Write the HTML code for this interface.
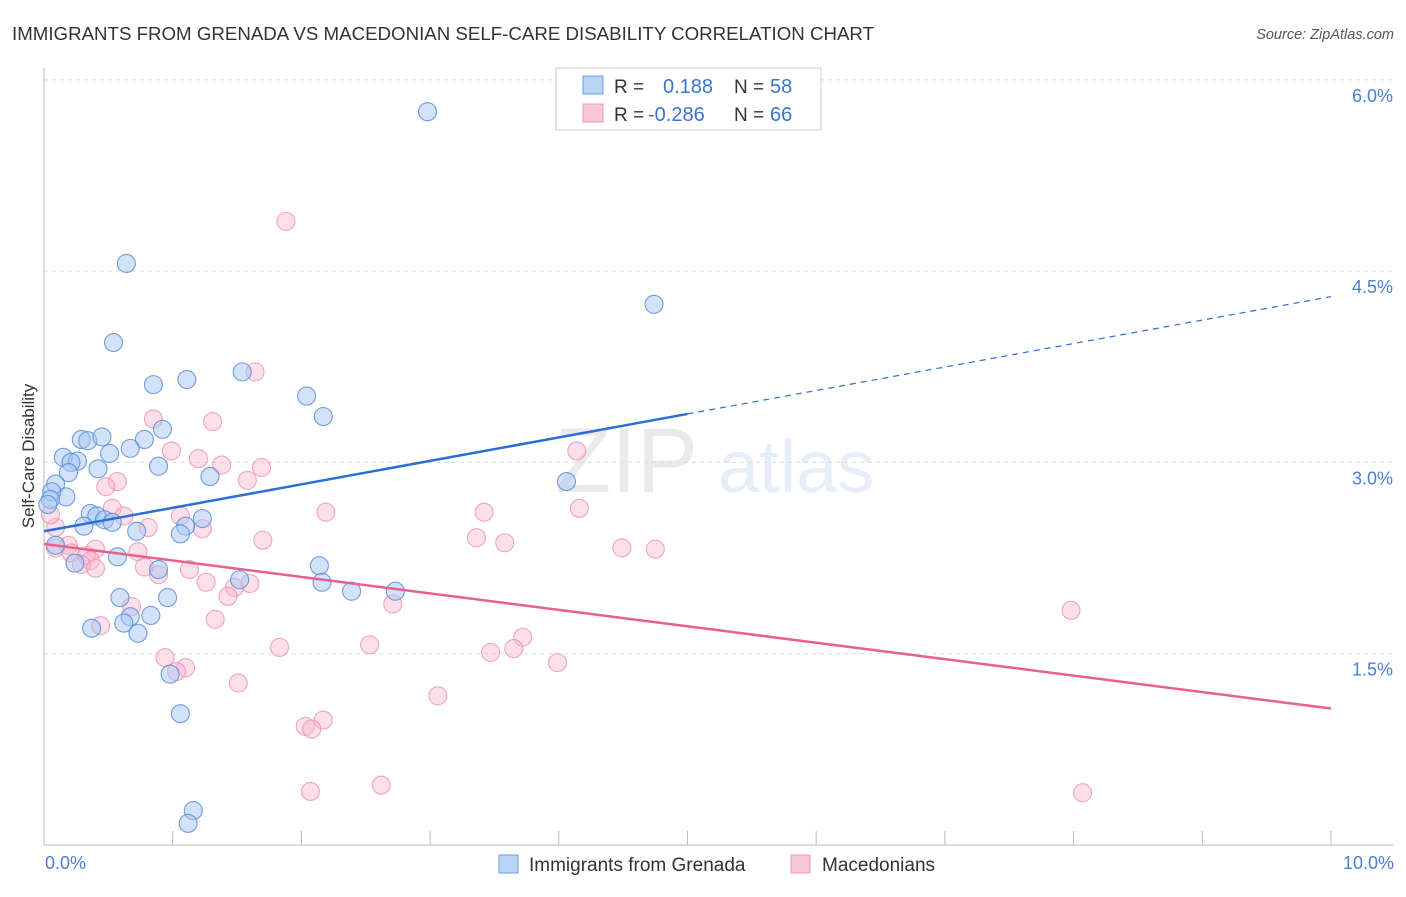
<!DOCTYPE html>
<html><head><meta charset="utf-8"><style>
body{margin:0;background:#fff;font-family:"Liberation Sans",sans-serif}
svg text{font-family:"Liberation Sans",sans-serif}
</style></head><body>
<svg id="chart" width="1406" height="892" xmlns="http://www.w3.org/2000/svg">
<text x="12" y="40" font-size="18" fill="#333" textLength="862" lengthAdjust="spacingAndGlyphs">IMMIGRANTS FROM GRENADA VS MACEDONIAN SELF-CARE DISABILITY CORRELATION CHART</text>
<text x="1394" y="39" font-size="14.5" fill="#555" text-anchor="end" font-style="italic">Source: ZipAtlas.com</text>
<g opacity="0.13">
<text x="555" y="492" font-size="92" fill="#666" font-family="Liberation Serif,serif">ZIP</text>
<text x="718" y="492" font-size="74" fill="#4a7fd4">atlas</text></g>
<g id="grid"></g>
<g id="axes"></g>
<g id="pts"></g>
<g id="trends"></g>
<text transform="translate(34,456) rotate(-90)" font-size="17" fill="#333" text-anchor="middle">Self-Care Disability</text>
<text x="45" y="869" font-size="18" fill="#4a7fd4">0.0%</text>
<text x="1394" y="869" font-size="18" fill="#4a7fd4" text-anchor="end">10.0%</text>
<g>
<rect x="556" y="68" width="265" height="62" fill="#fff" stroke="#ccc"/>
<rect x="583" y="76" width="20" height="18" fill="#b9d3f4" stroke="#6f9de0"/>
<rect x="583" y="104" width="20" height="18" fill="#f9c8d7" stroke="#e99ab5"/>
<text x="614" y="93" font-size="19" fill="#333">R = </text><text x="663" y="93" font-size="20" fill="#3a74d0">0.188</text>
<text x="734" y="93" font-size="19" fill="#333">N = </text><text x="770" y="93" font-size="20" fill="#3a74d0">58</text>
<text x="614" y="121" font-size="19" fill="#333">R = </text><text x="648" y="121" font-size="20" fill="#3a74d0">-0.286</text>
<text x="734" y="121" font-size="19" fill="#333">N = </text><text x="770" y="121" font-size="20" fill="#3a74d0">66</text>
</g>
<g>
<rect x="499" y="855" width="19" height="18" fill="#b9d3f4" stroke="#6f9de0"/>
<text x="529" y="871" font-size="19" fill="#333">Immigrants from Grenada</text>
<rect x="791" y="855" width="19" height="18" fill="#f9c8d7" stroke="#e99ab5"/>
<text x="822" y="871" font-size="19" fill="#333">Macedonians</text>
</g>
</svg>
<script>
const yTicks=[1.5,3.0,4.5,6.0];
const yTickLabels=["1.5%","3.0%","4.5%","6.0%"];
const xTicks=[1,2,3,4,5,6,7,8,9,10];
const blueX=[2.98,0.64,4.74,0.54,1.54,1.11,0.85,2.04,2.17,0.92,0.29,0.34,0.45,0.78,0.67,0.51,0.15,0.26,0.21,0.89,0.42,0.19,1.29,4.06,0.09,0.17,0.06,0.05,0.03,0.36,0.41,1.23,0.47,0.53,0.31,1.10,0.72,1.06,0.09,0.57,0.24,0.89,2.14,1.52,2.16,2.39,2.73,0.96,0.59,0.83,0.67,0.62,0.37,0.73,0.98,1.06,1.16,1.12];
const blueY=[5.75,4.56,4.24,3.94,3.71,3.65,3.61,3.52,3.36,3.26,3.18,3.17,3.20,3.18,3.11,3.07,3.04,3.01,3.00,2.97,2.95,2.92,2.89,2.85,2.83,2.73,2.77,2.71,2.67,2.60,2.58,2.56,2.55,2.53,2.50,2.50,2.46,2.44,2.35,2.26,2.21,2.16,2.19,2.08,2.06,1.99,1.99,1.94,1.94,1.80,1.79,1.74,1.70,1.66,1.34,1.03,0.27,0.17];
const pinkX=[1.88,1.64,0.85,1.31,0.99,1.20,1.38,1.69,4.14,0.57,0.48,1.58,2.19,3.42,4.16,0.53,1.06,0.62,1.23,0.81,0.09,0.05,1.70,3.36,3.58,4.49,4.75,0.19,0.40,0.73,0.09,0.21,0.33,0.36,0.29,0.40,0.78,0.89,1.13,1.26,1.60,1.48,1.43,2.71,0.68,7.98,1.33,0.44,3.72,2.53,3.65,1.83,3.47,0.94,3.99,1.10,1.03,1.51,3.06,2.17,2.03,2.08,2.07,2.62,8.07];
const pinkY=[4.89,3.71,3.34,3.32,3.09,3.03,2.98,2.96,3.09,2.85,2.81,2.86,2.61,2.61,2.64,2.64,2.58,2.58,2.48,2.49,2.49,2.59,2.39,2.41,2.37,2.33,2.32,2.35,2.32,2.30,2.33,2.29,2.27,2.23,2.20,2.17,2.18,2.12,2.16,2.06,2.05,2.02,1.95,1.89,1.87,1.84,1.77,1.72,1.63,1.57,1.54,1.55,1.51,1.47,1.43,1.39,1.36,1.27,1.17,0.98,0.93,0.91,0.42,0.47,0.41];
const blueTrend=[2.46,4.30];
const pinkTrend=[2.36,1.07];
const NS="http://www.w3.org/2000/svg";
const sx=v=>44+v*128.7, sy=v=>845-v*127.53;
function mk(t,a,p){const e=document.createElementNS(NS,t);for(const k in a)e.setAttribute(k,a[k]);p.appendChild(e);return e;}
const grid=document.getElementById('grid'),axes=document.getElementById('axes');
yTicks.forEach((t,i)=>{
 const l=mk('line',{x1:44,x2:1393,y1:sy(t),y2:sy(t),stroke:'#ddd','stroke-dasharray':'4,4'},grid);
 
 
 const tx=mk('text',{x:1393,y:sy(t)+22,'font-size':18,fill:'#4a7fd4','text-anchor':'end'},axes);
 tx.textContent=yTickLabels[i];
 
 
});
mk('line',{x1:44,x2:1393,y1:845,y2:845,stroke:'#bbb'},axes);
mk('line',{x1:44,x2:44,y1:68,y2:845,stroke:'#bbb'},axes);
xTicks.forEach(t=>{const l=mk('line',{x1:sx(t),x2:sx(t),y1:831,y2:845,stroke:'#bbb'},axes);
 
 });
const pts=document.getElementById('pts');
function draw(X,Y,fill,stroke,name){X.forEach((x,i)=>{const c=mk('circle',{cx:sx(x),cy:sy(Y[i]),r:9,fill:fill,stroke:stroke,'stroke-width':1.1},pts);
 
 });}
draw(pinkX,pinkY,'rgba(248,185,205,0.45)','rgba(232,140,172,0.75)','macedonian-point');
draw(blueX,blueY,'rgba(165,198,242,0.5)','rgba(80,135,215,0.8)','grenada-point');
const tr=document.getElementById('trends');
const bm=(blueTrend[1]-blueTrend[0])/10;
let l=mk('line',{x1:sx(0),y1:sy(blueTrend[0]),x2:sx(5),y2:sy(blueTrend[0]+bm*5),stroke:'#2a6fd6','stroke-width':2.5},tr);


l=mk('line',{x1:sx(5),y1:sy(blueTrend[0]+bm*5),x2:sx(10),y2:sy(blueTrend[1]),stroke:'#2a6fd6','stroke-width':1.2,'stroke-dasharray':'6,5'},tr);


l=mk('line',{x1:sx(0),y1:sy(pinkTrend[0]),x2:sx(10),y2:sy(pinkTrend[1]),stroke:'#e8608e','stroke-width':2.5},tr);


</script>
</body></html>
